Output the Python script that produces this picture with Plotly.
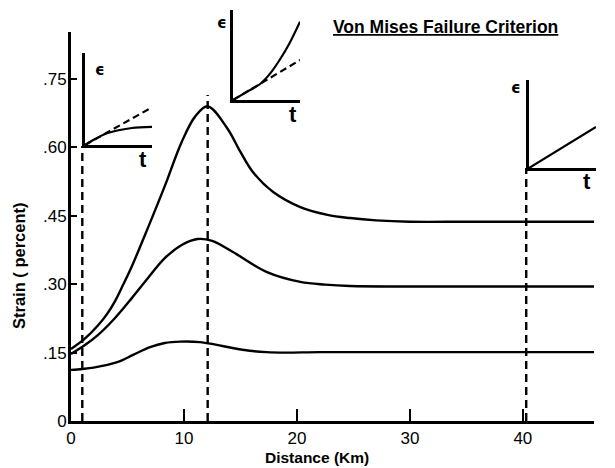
import plotly.graph_objects as go

# ---- main data (distance in km, strain in percent) ----
dist_3 = [0, 1.2, 2.4, 3.2, 3.9, 4.6, 5.4, 6.8, 8.3, 9.8, 11.0, 12.1, 13.8, 15.0, 16.1, 17.9, 20.3, 22.7, 24.7, 27, 30, 35, 40, 46.3]
strain_3 = [0.158, 0.18, 0.21, 0.235, 0.263, 0.298, 0.34, 0.423, 0.515, 0.612, 0.668, 0.69, 0.643, 0.59, 0.546, 0.502, 0.469, 0.452, 0.445, 0.44, 0.437, 0.437, 0.437, 0.437]

dist_2 = [0, 1.2, 2.4, 3.9, 5.4, 6.8, 8.3, 9.8, 11.2, 12.5, 14.3, 17.3, 20.3, 22.5, 24.7, 30, 40, 46.3]
strain_2 = [0.147, 0.166, 0.189, 0.226, 0.27, 0.313, 0.357, 0.386, 0.399, 0.395, 0.371, 0.327, 0.305, 0.299, 0.296, 0.295, 0.295, 0.295]

dist_1 = [0, 1, 2, 4.1, 5.5, 7, 8.3, 9.7, 11.4, 12.7, 14.3, 15.8, 17.3, 19, 22, 30, 40, 46.3]
strain_1 = [0.112, 0.114, 0.117, 0.129, 0.145, 0.162, 0.171, 0.174, 0.173, 0.168, 0.16, 0.154, 0.151, 0.15, 0.151, 0.151, 0.151, 0.151]

curve_labels = ["3", "2", "1"]

# dashed profile lines: location (km) and top (strain)
profile_x = [1.0, 12.1, 40.3]
profile_top = [0.603, 0.715, 0.555]

x_tick_vals = [0, 10, 20, 30, 40]
x_tick_text = ["0", "10", "20", "30", "40"]
y_tick_vals = [0, 0.15, 0.30, 0.45, 0.60, 0.75]
y_tick_text = ["0", ".15", ".30", ".45", ".60", ".75"]

# ---- inset data (schematic strain vs time) ----
inset1_t = [0, 0.15, 0.3, 0.5, 0.7, 1.0]
inset1_solid = [0, 0.065, 0.12, 0.16, 0.185, 0.196]
inset1_dash_t = [0, 1.0]
inset1_dash = [0, 0.41]

inset2_t = [0, 0.2, 0.4, 0.55, 0.7, 0.85, 1.0]
inset2_solid = [0, 0.088, 0.175, 0.29, 0.45, 0.64, 0.87]
inset2_dash_t = [0, 1.0]
inset2_dash = [0, 0.444]

inset3_t = [0, 1.0]
inset3_solid = [0, 0.466]

FONT = "Liberation Sans"
W, H = 615, 468
PAGE = 8  # default page margin around the figure
ML, MR, MT, MB = 63, 18, 0, 55
PW = W - ML - MR
PH = H - MT - MB


def px_x(p):
    return (p - PAGE - ML) / PW


def px_y(p):
    return (H - MB - (p - PAGE)) / PH


fig = go.Figure()

line_style = dict(color="black", width=2.4)
for xs, ys in [(dist_3, strain_3), (dist_2, strain_2), (dist_1, strain_1)]:
    fig.add_trace(go.Scatter(x=xs, y=ys, mode="lines", line=dict(shape="spline", smoothing=1.0, **line_style),
                             showlegend=False, hoverinfo="skip"))

for px_, top in zip(profile_x, profile_top):
    fig.add_trace(go.Scatter(x=[px_, px_], y=[0, top], mode="lines",
                             line=dict(color="black", width=2.4, dash="8px,5px"),
                             showlegend=False, hoverinfo="skip"))

# insets: (t, solid, dash t, dash, x pixel span, y pixel span, eps label px, t label px)
insets = [
    (inset1_t, inset1_solid, inset1_dash_t, inset1_dash, (85, 152), (145, 53), (100, 70), (143, 159)),
    (inset2_t, inset2_solid, inset2_dash_t, inset2_dash, (233, 300), (100, 10), (222, 23), (293, 114)),
    (inset3_t, inset3_solid, None, None, (529, 596), (168, 80), (516, 88), (587, 182)),
]
for i, (t, s, dt, ds, (x0, x1), (y0, y1), epos, tpos) in enumerate(insets, start=2):
    xa, ya = f"x{i}", f"y{i}"
    fig.add_trace(go.Scatter(x=t, y=s, xaxis=xa, yaxis=ya, mode="lines",
                             line=dict(color="black", width=2.2, shape="spline"),
                             showlegend=False, hoverinfo="skip"))
    if dt is not None:
        fig.add_trace(go.Scatter(x=dt, y=ds, xaxis=xa, yaxis=ya, mode="lines",
                                 line=dict(color="black", width=2.2, dash="7px,4px"),
                                 showlegend=False, hoverinfo="skip"))
    ax = dict(domain=[px_x(x0), px_x(x1)], range=[0, 1], showline=True, linecolor="black", linewidth=2.6,
              showgrid=False, zeroline=False, showticklabels=False, ticks="", fixedrange=True,
              automargin=False)
    fig.update_layout(**{
        f"xaxis{i}": dict(anchor=ya, **ax),
        f"yaxis{i}": dict(anchor=xa, **{**ax, "domain": [px_y(y0), px_y(y1)]}),
    })
    fig.add_annotation(x=px_x(epos[0]), y=px_y(epos[1]), xref="paper", yref="paper",
                       xanchor="center", yanchor="middle",
                       text="<b>ϵ</b>", showarrow=False, font=dict(family="DejaVu Sans", size=15, color="black"))
    fig.add_annotation(x=px_x(tpos[0]), y=px_y(tpos[1]), xref="paper", yref="paper",
                       xanchor="center", yanchor="middle",
                       text="<b>t</b>", showarrow=False, font=dict(family=FONT, size=22, color="black"))

# curve number labels
for lab, ys, xs in zip(curve_labels, [strain_3, strain_2, strain_1], [dist_3, dist_2, dist_1]):
    fig.add_annotation(x=xs[-1] + 1.1, y=ys[-1], xref="x", yref="y", text=lab, showarrow=False,
                       xanchor="left", yanchor="middle", font=dict(family=FONT, size=18, color="black"))

# title
fig.add_annotation(x=px_x(445), y=px_y(27), xref="paper", yref="paper", xanchor="center", yanchor="middle",
                   text="<b><u>Von Mises Failure Criterion</u></b>", showarrow=False,
                   font=dict(family=FONT, size=17.5, color="black"))

# axis titles
fig.add_annotation(x=px_x(317), y=px_y(457), xref="paper", yref="paper", xanchor="center", yanchor="middle",
                   text="<b>Distance (Km)</b>", showarrow=False, font=dict(family=FONT, size=15.5, color="black"))
fig.add_annotation(x=px_x(19), y=px_y(266), xref="paper", yref="paper", xanchor="center", yanchor="middle",
                   text="<b>Strain ( percent)</b>", showarrow=False, textangle=-90,
                   font=dict(family=FONT, size=16.5, color="black"))

fig.update_layout(
    width=W, height=H,
    margin=dict(l=ML, r=MR, t=MT, b=MB, autoexpand=False),
    paper_bgcolor="white", plot_bgcolor="white",
    font=dict(family=FONT, color="black"),
    xaxis=dict(domain=[0, px_x(594)], range=[0, 46.3], anchor="y", automargin=False,
               showline=True, linecolor="black", linewidth=2.8, showgrid=False, zeroline=False,
               tickvals=x_tick_vals, ticktext=x_tick_text, ticks="inside", ticklen=12, tickwidth=2.4,
               tickcolor="black", tickfont=dict(size=17, family=FONT)),
    yaxis=dict(domain=[0, px_y(32)], range=[0, 0.853], anchor="x", automargin=False,
               showline=True, linecolor="black", linewidth=3, showgrid=False, zeroline=False,
               tickvals=y_tick_vals, ticktext=y_tick_text, ticks="inside", ticklen=6, tickwidth=2,
               ticklabelstandoff=-2,
               tickcolor="black", tickfont=dict(size=17, family=FONT)),
)

fig.write_html("out.html")
